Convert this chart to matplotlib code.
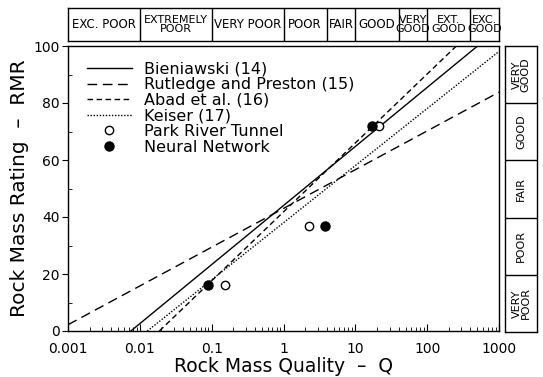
import numpy as np
import matplotlib
matplotlib.use("Agg")
import matplotlib.pyplot as plt
from matplotlib.legend_handler import HandlerLine2D
from matplotlib.ticker import LogLocator, MultipleLocator, NullFormatter

# ---- data ----
q_bounds = [0.001, 0.01, 0.1, 1, 4, 10, 40, 100, 400, 1000]
q_labels = ["EXC. POOR", "EXTREMELY\nPOOR", "VERY POOR", "POOR", "FAIR", "GOOD",
            "VERY\nGOOD", "EXT.\nGOOD", "EXC.\nGOOD"]
rmr_bounds = [0, 20, 40, 60, 80, 100]
rmr_labels = ["VERY\nPOOR", "POOR", "FAIR", "GOOD", "VERY\nGOOD"]

bien_Q = [0.0075, 503]
bien_R = [0, 100]
rut_Q = [0.001, 1000]
rut_R = [2.2, 83.8]
abad_Q = [0.0187, 255]
abad_R = [0, 100]
keis_Q = [0.0127, 1000]
keis_R = [0, 98.1]

park_Q = [0.155, 2.3, 21.5]
park_R = [16, 37, 72]
nn_Q = [0.088, 3.8, 17]
nn_R = [16, 37, 72]

xticks = [0.001, 0.01, 0.1, 1, 10, 100, 1000]
xticklabels = ["0.001", "0.01", "0.1", "1", "10", "100", "1000"]

W, H = 543, 377
fig = plt.figure(figsize=(W / 100, H / 100), dpi=100)

def rect(l, t, r, b):
    return [l / W, 1 - b / H, (r - l) / W, (b - t) / H]

ax = fig.add_axes(rect(68, 46, 499, 331))
ax.set_xscale("log")
ax.set_xlim(0.001, 1000)
ax.set_ylim(0, 100)

lw = 1.0
ax.plot(bien_Q, bien_R, color="black", lw=lw, ls="-", label="Bieniawski (14)")
ax.plot(rut_Q, rut_R, color="black", lw=lw, ls=(0, (7, 4)), label="Rutledge and Preston (15)")
ax.plot(abad_Q, abad_R, color="black", lw=lw, ls=(0, (4, 2.5)), label="Abad et al. (16)")
ax.plot(keis_Q, keis_R, color="black", lw=lw, ls=(0, (1, 1.2)), label="Keiser (17)")
p1, = ax.plot(park_Q, park_R, ls="none", marker="o", ms=6, mfc="white", mec="black",
              mew=1.0, label="Park River Tunnel")
p2, = ax.plot(nn_Q, nn_R, ls="none", marker="o", ms=6.5, mfc="black", mec="black",
              label="Neural Network")


class RightMarker(HandlerLine2D):
    def get_xdata(self, legend, xdescent, ydescent, width, height, fontsize):
        xdata = [-xdescent, -xdescent + width]
        return xdata, [-xdescent + 0.78 * width]


leg = ax.legend(loc="upper left", frameon=False, fontsize=11.5, handlelength=2.8,
                handletextpad=0.8, labelspacing=0.04, borderaxespad=0.0,
                bbox_to_anchor=(0.029, 0.968),
                handler_map={p1: RightMarker(numpoints=1), p2: RightMarker(numpoints=1)})

ax.set_xticks(xticks)
ax.set_xticklabels(xticklabels, fontsize=10)
ax.xaxis.set_minor_locator(LogLocator(base=10, subs=np.arange(2, 10)))
ax.xaxis.set_minor_formatter(NullFormatter())
ax.tick_params(axis="x", which="major", direction="in", length=5, width=0.8, pad=8)
ax.tick_params(axis="x", which="minor", direction="in", length=3, width=0.6)
ax.set_yticks([0, 20, 40, 60, 80, 100])
ax.yaxis.set_minor_locator(MultipleLocator(10))
ax.tick_params(axis="y", which="major", direction="out", length=4, width=0.8, labelsize=10, pad=2)
ax.tick_params(axis="y", which="minor", direction="in", length=3, width=0.6)
for s in ax.spines.values():
    s.set_linewidth(1.0)

ax.set_xlabel("Rock Mass Quality  \u2013  Q", fontsize=13.5, labelpad=0.5)
ax.set_ylabel("Rock Mass Rating  \u2013  RMR", fontsize=14.5, labelpad=3)

small = ["Liberation Sans Narrow", "DejaVu Sans"]

# ---- top band ----
axt = fig.add_axes(rect(68, 8, 499, 41))
axt.set_xscale("log")
axt.set_xlim(0.001, 1000)
axt.set_ylim(0, 1)
axt.set_xticks([])
axt.set_yticks([])
axt.minorticks_off()
for s in axt.spines.values():
    s.set_linewidth(1.0)
for b in q_bounds[1:-1]:
    axt.axvline(b, color="black", lw=1.0)
for i, lab in enumerate(q_labels):
    xc = np.sqrt(q_bounds[i] * q_bounds[i + 1])
    fs = 8.5 if "\n" not in lab else 8.0
    axt.text(xc, 0.5, lab, ha="center", va="center", fontsize=fs,
             family=small, linespacing=0.85)

# ---- right band ----
axr = fig.add_axes(rect(505, 46, 537, 332))
axr.set_xlim(0, 1)
axr.set_ylim(0, 100)
axr.set_xticks([])
axr.set_yticks([])
for s in axr.spines.values():
    s.set_linewidth(1.0)
for b in rmr_bounds[1:-1]:
    axr.axhline(b, color="black", lw=1.0)
for i, lab in enumerate(rmr_labels):
    yc = 0.5 * (rmr_bounds[i] + rmr_bounds[i + 1])
    axr.text(0.5, yc, lab, ha="center", va="center", fontsize=8, rotation=90,
             family=small, linespacing=0.85)

fig.savefig("out.png", dpi=100)
